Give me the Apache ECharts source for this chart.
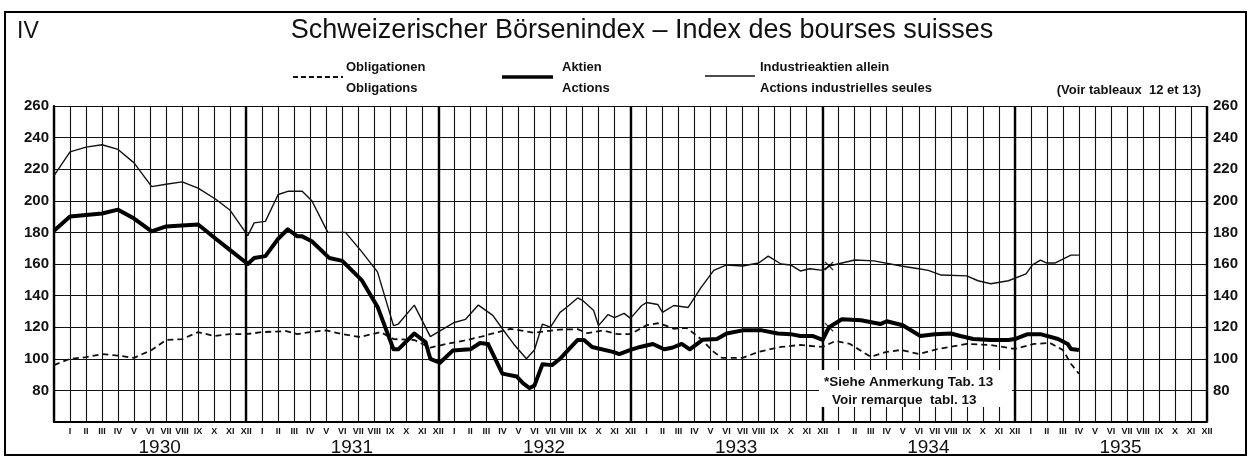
<!DOCTYPE html>
<html><head><meta charset="utf-8">
<script src="https://cdn.jsdelivr.net/npm/echarts@6/dist/echarts.min.js"></script>
<style>html,body{margin:0;padding:0;background:#fff}#c{width:1250px;height:457px}</style>
</head><body><div id="c"></div>
<script>
// x = month index: gridline k marks month k (1 = Jan 1930 ... 72 = Dec 1935)
const monthLabels = ['I','II','III','IV','V','VI','VII','VIII','IX','X','XI','XII'];
const yearLabels = ['1930','1931','1932','1933','1934','1935'];

const obligationen = [
 [0,96],[1,100],[2,101],[3,103],[4,102],[5,100.6],[6.1,105.6],[7,111.9],[8,112.5],[9,116.9],[10,114.4],[11,115.6],
 [12,115.6],[13,116.9],[14.5,117.5],[15.2,115.6],[16,116.9],[17,118],[18,115.6],[19.1,113.8],[20.4,116.9],[21.2,112.5],
 [22.5,111.9],[23.5,107],[24.5,109.4],[25.6,111.5],[26.6,113.8],[27.7,116.9],[28.5,119],[30,116.5],[31.6,118.5],[32.7,118.75],
 [33.3,116.2],[34.3,118],[35.2,115.6],[36,115.6],[37,121.25],[37.7,122.5],[38.2,121],[38.7,119],[39.5,119.6],[40.4,112.5],
 [41.2,104.4],[41.7,100.6],[43,100.6],[44,104.4],[45.4,107.5],[46.6,108.75],[48,107.5],[48.8,111.25],[49.7,109.4],[51,101.25],
 [52,104.4],[52.9,105.6],[54,103],[55.2,106.25],[57,109.4],[58.5,108.75],[60,106.25],[61.2,109.4],[62.2,110],[63,105.6],
 [63.5,96.9],[64,90.6]
];
const aktien = [
 [0,181],[1,190],[2,191],[3,192],[4,194.4],[5,188.75],[6.1,180.6],[7,183.75],[8,184.4],[9,185],[10.1,176],[11,168.75],
 [12.1,160],[12.5,163.75],[13.2,165],[14,176],[14.6,182],[15.2,177.5],[15.5,177.5],[16.1,174.4],[17.2,163.75],[18,162],
 [19.2,150],[20.2,133],[21.2,106],[21.5,106],[22.5,116],[23.2,110.6],[23.5,100],[24.1,97.5],[24.9,105.2],[26,106],
 [26.6,110],[27.1,109.4],[28,90.6],[28.9,88.75],[29.3,84.4],[29.7,81.5],[30,83],[30.5,96.5],[31.1,96],[31.6,100],
 [32,104.4],[32.7,111.9],[33.1,111.9],[33.6,107.5],[34.9,104.4],[35.3,103],[36,105.6],[36.6,107.5],[37.4,109.4],[38.1,106],
 [38.6,107],[39.2,109.4],[39.7,106],[40.5,112],[41.4,112.5],[42,116],[43,118],[44.2,118],[45.2,116],[46,115.6],
 [46.6,114.4],[47.4,114.4],[48,112],[48.4,120],[49.2,125],[50.4,124.4],[51.6,122],[52,123.75],[53,121.25],[54.1,114.4],
 [55,115.6],[56,116],[56.6,114.4],[57.4,112.5],[58.5,111.9],[59.6,111.9],[60,112.5],[60.8,115.6],[61.6,115.6],[62.7,112.5],
 [63.3,109.4],[63.5,106.25],[64,105.6]
];
const industrie = [
 [0,216],[1,231],[2,234],[3,235.5],[4,232.5],[5,224],[6.1,209],[7,210.5],[8,212],[9,208],[10.1,201],[11,194],
 [12.1,178],[12.5,186],[13.2,187],[14,204],[14.6,206],[15.5,206],[16.1,200],[17.1,180],[18.2,180],[19.2,168],[20.2,155],
 [21.2,121],[21.5,122],[22.5,134],[23.5,114],[24,117],[25,123],[25.7,125],[26.5,134],[27.4,127.5],[28,119],[28.7,109.4],
 [29.5,100],[30,105.6],[30.5,122],[31,120],[31.6,129.4],[32,132.5],[32.7,138.5],[33,137],[33.7,130.6],[34,121],[34.6,128],
 [35,126],[35.6,128.75],[36,125.6],[36.7,133.75],[37,135.6],[37.7,134.4],[38,129.4],[38.7,133.75],[39.6,132.5],[40.4,145],
 [41.2,156],[42,159.4],[43,158.75],[44,160.6],[44.6,165],[45.4,160],[46,159.4],[46.6,155.6],[47.2,157],[48,156],
 [48.4,158.75],[50,162.5],[51.2,162],[52.9,158.75],[54,157],[54.6,156],[55.4,153],[57,152.5],[57.7,149.4],[58.5,147.5],
 [59.6,149.4],[60.7,153.75],[61.1,159.5],[61.6,162.5],[62,160.6],[62.5,160.6],[63.5,165.6],[64,165.6]
];
const newSeriesMarks = [[48.4,158.75],[48.4,120]];

const FONT = "'Liberation Sans', Arial, sans-serif";
const chart = echarts.init(document.getElementById('c'));
const yAxisBase = {
  type:'value', min:60, max:260, interval:20,
  axisTick:{show:false},
  axisLabel:{color:'#111', fontFamily:FONT, fontWeight:'bold', fontSize:15, formatter:v=> v===60?'':String(v)}
};
chart.setOption({
  animation:false,
  backgroundColor:'#fff',
  grid:{left:54, right:43, top:106, bottom:31},
  xAxis:[
    {type:'value', min:0, max:72, interval:1, position:'bottom',
     axisLine:{show:true, lineStyle:{color:'#000', width:2}}, axisTick:{show:false},
     splitLine:{show:true, lineStyle:{color:'#111', width:1.1}},
     axisLabel:{show:true, margin:5, color:'#111', fontFamily:FONT, fontWeight:'bold', fontSize:9,
       showMinLabel:true, showMaxLabel:true,
       formatter:v=> v===0?'':monthLabels[(Math.round(v)-1)%12]}},
    {type:'value', min:0, max:72, interval:12, position:'bottom',
     axisLine:{show:false}, axisTick:{show:false}, axisLabel:{show:false},
     splitLine:{show:true, lineStyle:{color:'#000', width:2.4}}},
    {type:'value', min:0, max:72, position:'bottom',
     axisLine:{show:false}, axisTick:{show:false}, splitLine:{show:false},
     axisLabel:{show:true, margin:16, color:'#111', fontFamily:FONT, fontSize:19,
       customValues: yearLabels.map((y,k)=>6.6+12*k),
       formatter:v=> yearLabels[Math.floor(v/12)]}}
  ],
  yAxis:[
    Object.assign({}, yAxisBase, {position:'left',
      axisLine:{show:true, lineStyle:{color:'#000', width:2}},
      axisLabel:Object.assign({}, yAxisBase.axisLabel, {margin:5}),
      splitLine:{show:true, lineStyle:{color:'#111', width:1.1}}}),
    Object.assign({}, yAxisBase, {position:'right',
      axisLine:{show:true, lineStyle:{color:'#000', width:1.5}},
      axisLabel:Object.assign({}, yAxisBase.axisLabel, {margin:6}),
      splitLine:{show:false}})
  ],
  series:[
    {type:'line', name:'Obligationen', data:obligationen, showSymbol:false, symbol:'none',
     lineStyle:{color:'#111', width:1.8, type:[6,4]}, z:3},
    {type:'line', name:'Industrieaktien', data:industrie, showSymbol:false, symbol:'none',
     lineStyle:{color:'#111', width:1.4}, z:4},
    {type:'line', name:'Aktien', data:aktien, showSymbol:false, symbol:'none',
     lineStyle:{color:'#000', width:4, join:'round'}, z:5},
    {type:'scatter', data:newSeriesMarks, symbolSize:9, z:6,
     symbol:'path://M0,1L1,0L5,4L9,0L10,1L6,5L10,9L9,10L5,6L1,10L0,9L4,5Z',
     itemStyle:{color:'#000'}}
  ],
  graphic:[
    {type:'rect', shape:{x:5,y:12,width:1241,height:443}, style:{fill:'none', stroke:'#000', lineWidth:2}, z:100},
    {type:'text', x:17, y:32, style:{text:'IV', font:'23px '+FONT, fill:'#111', verticalAlign:'middle'}, z:100},
    {type:'text', x:642, y:31, style:{text:'Schweizerischer Börsenindex – Index des bourses suisses', font:'27px '+FONT, fill:'#111', align:'center', verticalAlign:'middle'}, z:100},
    {type:'line', shape:{x1:293,y1:77,x2:343,y2:77}, style:{stroke:'#111', lineWidth:1.8, lineDash:[5,3]}, z:100},
    {type:'text', x:346, y:67, style:{text:'Obligationen', font:'bold 13px '+FONT, fill:'#111', verticalAlign:'middle'}, z:100},
    {type:'text', x:346, y:88, style:{text:'Obligations', font:'bold 13px '+FONT, fill:'#111', verticalAlign:'middle'}, z:100},
    {type:'line', shape:{x1:502,y1:77,x2:553,y2:77}, style:{stroke:'#000', lineWidth:3.5}, z:100},
    {type:'text', x:562, y:67, style:{text:'Aktien', font:'bold 13px '+FONT, fill:'#111', verticalAlign:'middle'}, z:100},
    {type:'text', x:562, y:88, style:{text:'Actions', font:'bold 13px '+FONT, fill:'#111', verticalAlign:'middle'}, z:100},
    {type:'line', shape:{x1:705,y1:76,x2:755,y2:76}, style:{stroke:'#111', lineWidth:1.4}, z:100},
    {type:'text', x:760, y:67, style:{text:'Industrieaktien allein', font:'bold 13px '+FONT, fill:'#111', verticalAlign:'middle'}, z:100},
    {type:'text', x:760, y:88, style:{text:'Actions industrielles seules', font:'bold 13px '+FONT, fill:'#111', verticalAlign:'middle'}, z:100},
    {type:'text', x:1201, y:90, style:{text:'(Voir tableaux  12 et 13)', font:'bold 13px '+FONT, fill:'#111', align:'right', verticalAlign:'middle'}, z:100},
    {type:'rect', shape:{x:819,y:370,width:193,height:37}, style:{fill:'#fff'}, z:100},
    {type:'text', x:824, y:382, style:{text:'*Siehe Anmerkung Tab. 13', font:'bold 13.5px '+FONT, fill:'#111', verticalAlign:'middle'}, z:101},
    {type:'text', x:832, y:400, style:{text:'Voir remarque  tabl. 13', font:'bold 13.5px '+FONT, fill:'#111', verticalAlign:'middle'}, z:101}
  ]
});
</script></body></html>
